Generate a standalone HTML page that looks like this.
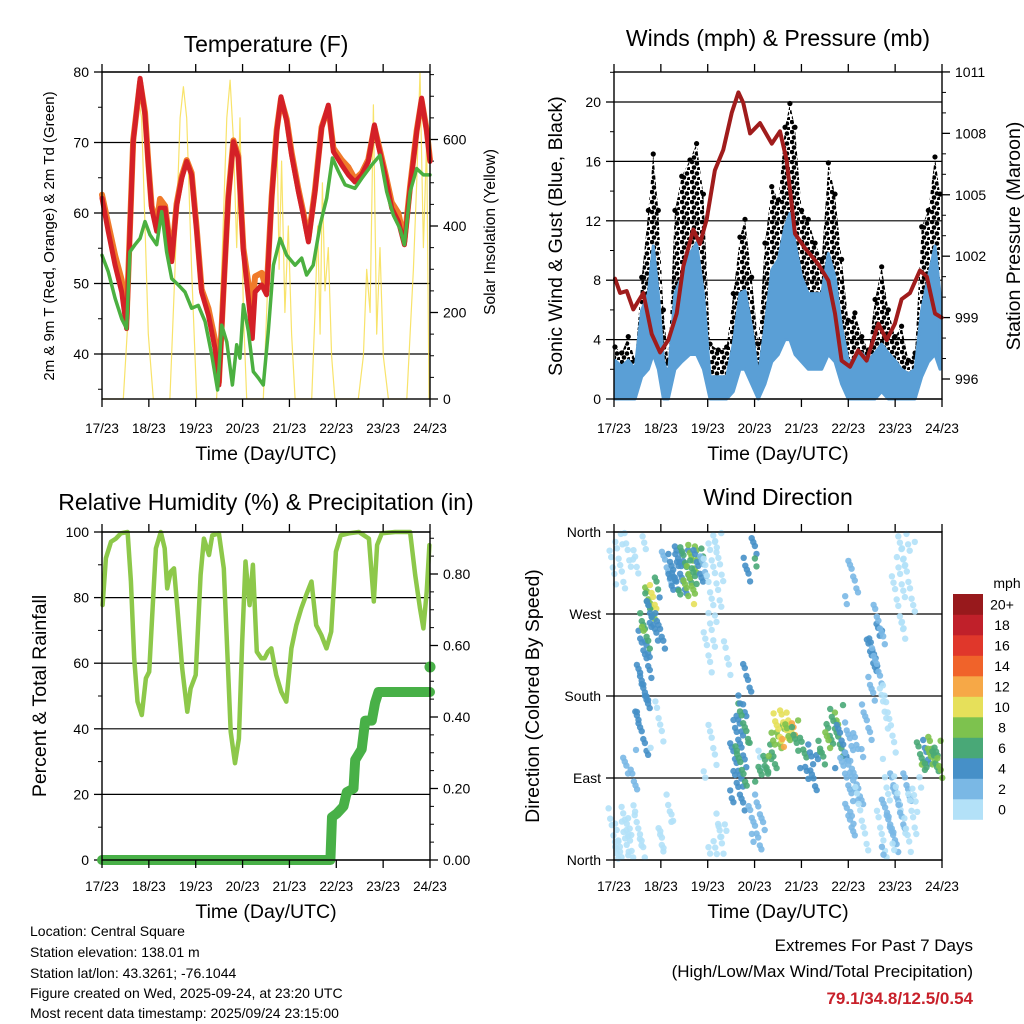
<!DOCTYPE html>
<html><head><meta charset="utf-8">
<style>
html,body{margin:0;padding:0;background:#fff;}
svg{display:block;font-family:"Liberation Sans",Arial,sans-serif;}
</style></head>
<body>
<svg id="root" width="1024" height="1024" viewBox="0 0 1024 1024" xmlns="http://www.w3.org/2000/svg">
<defs>
<pattern id="dots" width="10" height="10" patternUnits="userSpaceOnUse">
<circle cx="2" cy="2" r="2.3" fill="#000"/><circle cx="7" cy="3.5" r="2.3" fill="#000"/><circle cx="4" cy="7.5" r="2.3" fill="#000"/><circle cx="9" cy="9" r="2" fill="#000"/>
</pattern>
</defs>
<g id="g1"></g>
<g id="g2"></g>
<g id="g3"></g>
<g id="g4"></g>
<g id="footer">
<text x="30" y="936" font-size="14">Location: Central Square</text>
<text x="30" y="957" font-size="14">Station elevation: 138.01 m</text>
<text x="30" y="978" font-size="14">Station lat/lon: 43.3261; -76.1044</text>
<text x="30" y="998" font-size="14">Figure created on Wed, 2025-09-24, at 23:20 UTC</text>
<text x="30" y="1018" font-size="14">Most recent data timestamp: 2025/09/24 23:15:00</text>
<text x="973" y="951" font-size="17" text-anchor="end">Extremes For Past 7 Days</text>
<text x="973" y="977" font-size="17" text-anchor="end">(High/Low/Max Wind/Total Precipitation)</text>
<text x="973" y="1004" font-size="17" font-weight="bold" fill="#c8202a" text-anchor="end">79.1/34.8/12.5/0.54</text>
</g>
</svg>
<script>
// ---------- DATA ----------
const dayLabels = ["17/23","18/23","19/23","20/23","21/23","22/23","23/23","24/23"];
const tempT = [0,3.2,6.7,10.1,12.6,14.3,16,19.5,22,23.7,25.4,28,29.7,32.3,35.7,38.2,40.8,43.4,45.9,48.5,51,54.5,57.9,59.9,62.1,64.7,67.3,69.8,72.4,75,77,78.4,81.8,84.3,86.9,89.5,91.7,94.6,97.1,100.6,103.1,105.7,109.1,112.5,115.9,118.5,122.8,126.2,129.6,133,136.4,139.5,141.5,145,148.4,151.8,154.9,157.8,161.2,163.7,166.3,168];
const tempRed = [62.1,57.4,52.6,48.8,43.6,57.4,70.1,79.1,73.9,66.8,60.7,57.4,60.7,60.7,53.1,61,64.9,67.3,65.4,57.4,48.8,45.5,40.8,35.6,47.9,62.1,70.1,67.8,54.5,47.9,42.2,48.8,49.8,48.4,62.1,71.5,76.5,73,68.2,63,59.7,55.9,63,72,75.3,68.7,66.8,65.4,64.4,65.4,67.3,72.5,69.6,65.4,60.7,58.8,55.5,63.5,71.5,76.3,71.5,67.3];
const tempOrange = [62.6,58.5,54,50.5,45,57.6,70.4,78.6,74.3,67.2,61,58.5,62,61,53.5,61.3,65.2,67.5,65.7,57.8,49.2,46.5,42,36,48.2,62.4,70.3,68.1,55,50,47,51,51.5,49,62.4,71.8,76.2,73.3,68.6,63.4,60.1,56.3,63.3,72.2,75,69.2,67.5,66.5,64.8,65.7,67.6,72.2,69.9,65.8,61.5,60,56,63.8,71.7,76,71.8,67.6];
const dewT = [0,3.2,6.7,10.1,12.6,14.3,16.9,19.5,22,24.6,28,30.6,33.1,35.7,39.1,42.5,45.9,49.3,52.8,56.2,59.2,61.3,63.9,66.8,69,70.7,72.4,75,77.5,80.1,82.6,85.2,87.8,91.2,94.6,98.9,102.3,104.8,108.2,111.7,115.1,118,121.1,124.5,129.6,133,138.1,142.4,145.8,149.2,152.6,154.9,157.8,161.2,164.6,168];
const dewVal = [54,51.7,47.9,45,43.6,54.5,55.5,56.4,58.8,56.9,55.5,60.2,54.5,50.7,49.8,48.8,46.5,46.9,44.6,39.9,34.9,44.1,41.7,35.6,41.3,39.4,47,43.2,37.5,36.6,35.6,43.2,52.6,56.4,54,52.6,53.6,51.2,52.6,58.3,62.1,67.8,65.9,64,63.5,64.9,66.8,68.2,63,59.7,57.8,55.5,63,66.3,65.4,65.4];
const solarT = [0,10.9,13.5,16,18.6,20.3,22,23.7,26.3,34.8,37.4,40,41.7,43.4,45.9,48.5,58.7,61.3,63.9,65.6,67.3,69,70.7,72.4,74.1,82.6,85.2,87.8,89.5,90.7,92,93.7,95.4,97.1,98.9,107.4,109.1,110.5,111.7,112.9,114.2,115.9,117.6,119.3,131.3,133.9,135.6,137.3,139,140.7,142.4,144.1,146.7,156.1,157.8,159.5,161.2,162.9,164.6,166.3,167.5];
const solarVal = [0,0,200,500,700,650,400,150,0,0,300,650,722,650,300,0,0,300,650,737,600,350,650,200,0,0,300,600,656,300,550,200,400,150,0,0,200,400,150,500,250,350,100,0,0,100,300,200,680,150,350,100,0,0,150,300,500,756,350,600,0];

const presT = [0.5,3.1,6.5,9.9,15,19.3,23.6,27.8,32.1,35.5,40.6,44,47.5,51.7,56,60.3,63.7,66.2,69.7,74.8,80.8,85,88.4,92.7,97.8,104.7,109.8,113.2,116.6,120.9,125.1,129.4,135.4,139.7,143.9,147.3,151.6,156.7,160.2,164.4,167.8];
const presVal = [1000.9,1000.2,1000.3,999.4,1000.2,998.2,997.3,997.9,999.2,1001.5,1003.3,1002.6,1003.8,1006.2,1007.2,1009,1010,1009.5,1008,1008.5,1007.5,1008.1,1006.7,1003.1,1002.4,1001.6,1000.8,999.2,996.9,996.6,997.4,996.9,998.7,997.9,998.7,999.9,1000.2,1001.3,1001,999.2,999];
const windT = [0.5,3.9,7.3,10.8,14.2,17.6,20.1,22.7,25.3,27.8,31.2,34.7,38.9,42.3,45.8,49.2,53.4,57.7,61.1,64.5,67.1,70.5,73.9,77.3,80.8,84.2,87.6,90.1,92.7,96.1,99.5,103,106.4,109.8,113.2,116.6,120,123.4,126.9,130.3,133.7,137.1,140.5,143.9,147.3,150.8,154.2,157.6,161,164.4,167];
const windHi = [2.6,2.2,2.6,2.0,6.0,7.1,10.3,7.1,2.6,1.5,7.1,8.2,9.8,10.5,7.1,1.5,1.5,1.5,3.7,7.1,7.3,4.8,1.5,4.8,8.7,9.4,11.6,12.5,10.5,8.2,7.1,7.1,7.1,9.8,8.2,4.8,2.6,2.6,3.1,2.6,3.1,3.7,3.1,2.6,2.0,1.7,2.0,6.0,8.2,10.3,7.1];
const windLo = [0,0,0,0,1.5,2,3,2,0,0,2,2.5,3,3,2,0,0,0,0.5,2,2,1,0,1,2.5,3,4,4,3,2.5,2,2,2,3,2.5,1,0,0,0,0,0,0.5,0,0,0,0,0,1.5,2.5,3,2];
const gustHi = [3.5,3.1,4.2,2.6,8.2,12.7,16.5,12.7,6.0,2.6,12.7,15.0,16.1,17.2,13.8,3.7,3.3,3.5,7.1,10.9,12.1,8.2,3.7,10.5,14.3,13.4,18.3,19.9,18.3,12.7,12.1,10.5,9.4,15.9,13.8,9.4,5.3,5.8,4.2,3.3,6.7,8.9,6.0,4.2,4.9,2.6,3.1,11.6,12.7,16.3,13.8];

const rhT = [0.3,2,4.6,7.1,9.7,13.1,14.8,16.5,18.2,20.4,22.5,24.2,25.9,27.6,30.1,32.1,33.4,35.2,36.9,38.6,41.1,43.7,45.4,48,50.5,52.2,54.8,56.5,59.9,62.4,64.2,65.9,68.1,70.1,71.8,73.5,75.6,77.3,79.3,81.6,83.3,85,86.7,89.2,91.8,94.4,97,99.5,102.1,104.6,107.3,109.7,112.3,115,117.4,119.8,122.3,126.5,131.6,136.7,139.2,140.9,143.3,150.1,157.8,160.4,162.9,164.6,166.3,167.7];
const rhVal = [77.7,92,97,98,99.6,100,85,61.5,48.3,44.2,55.4,57.4,76.7,95,100,95,82.8,87.9,88.9,76.7,58.4,45.2,52.3,56.4,86.9,98,93,99,99.6,88.9,63.5,39.1,29.5,37,66.6,91,77.7,90,63.5,61.5,61.5,63.5,64.5,56.4,51.3,48.3,64.5,71.6,76.7,80.8,84.9,71.6,68.6,64.5,69.6,94,99,99.6,100,98,78.8,96,99.6,100,100,86.9,76.7,70.6,81.8,96];
const rainT = [0,117,117.8,120.3,123.7,125.4,128.8,129.7,133,134.8,138.2,139.9,141.6,168];
const rainVal = [0,0,0.12,0.13,0.15,0.19,0.20,0.28,0.31,0.39,0.39,0.44,0.47,0.47];
const rainFinal = [168, 0.54];

const dirT =  [0.5,2.2,3.9,5.6,7.3,9,10.8,12.5,1,4,7,10,13,8,11,14.2,15,15.9,16.7,17.6,18.4,19.3,20.1,23.6,22,26.1,27,27.8,29.5,31.2,33,34.7,36.4,38.9,40.6,42.3,44,45.8,41,49.2,51.7,54.3,49.2,51.7,54.3,56.9,58,62.8,64.5,65.5,66.2,67,69.7,69.7,72.2,73.9,74,75.6,77.3,79,80.8,82.5,84,85,86.7,88.4,89.5,91,93.6,96.1,98.7,101.2,103.8,106.4,108.9,111.5,114,116.6,119.2,121.7,124.3,126.9,121.7,130.3,132.8,134,135.4,137,138,140.5,141,143.1,145.6,148.2,150.8,146,149,152,154,158.4,160,161,162.5,164,165.5,166.5];
const dirLo = [2,2,2,2,2,2,2,2,300,295,320,310,330,90,75,110,150,200,230,250,270,265,240,230,120,2,10,300,295,295,300,290,285,290,285,300,300,310,276,200,230,300,80,2,2,2,200,60,55,80,120,170,305,320,10,20,100,85,90,95,100,110,120,125,130,130,120,130,115,105,95,85,70,100,115,120,110,100,60,20,40,2,280,130,200,210,190,140,2,2,110,10,250,280,240,10,30,5,20,95,100,100,100,105,95,90];
const dirHi = [55,40,60,45,50,38,60,30,357,350,357,340,357,120,100,200,240,262,270,300,300,310,290,270,175,70,50,340,335,345,335,340,345,345,345,340,340,335,280,357,357,350,150,50,40,35,240,160,170,130,170,215,355,330,60,70,120,105,110,115,125,140,150,160,165,160,150,155,145,135,125,115,100,130,150,160,170,150,150,140,120,80,330,200,260,250,280,190,90,80,190,95,357,357,350,90,95,80,90,130,130,135,125,130,120,110];
const dirSpd = [1,1,1,1,1,1,1,1,1,1,1,1,1,2,3,4,4,4,6,8,10,7,5,4,1,1,1,3,4,5,4,5,7,8,8,7,4,3,10,1,1,1,1,1,1,1,1,4,4,6,7,4,4,6,2,3,1,6,6,6,7,8,9,10,10,11,12,8,6,6,5,4,4,6,7,8,6,4,2,2,2,1,3,2,4,4,3,1,1,2,1,2,1,1,1,1,2,1,1,6,5,8,7,8,6,8];

const cbColors = ["#b3e1f8","#7ab8e5","#4690c8","#49a877","#7dc24e","#e6e05a","#f6a847","#f0632a","#e0372b","#c0202a","#98191c"];
const cbLabels = ["0","2","4","6","8","10","12","14","16","18","20+"];

// ---------- HELPERS ----------
const NS="http://www.w3.org/2000/svg";
function mk(parent, tag, attrs, txt){
  const e=document.createElementNS(NS,tag);
  for(const k in attrs) e.setAttribute(k,attrs[k]);
  if(txt!==undefined) e.textContent=txt;
  parent.appendChild(e); return e;
}
const P1={L:102,R:430,T:72,B:399}, P2={L:614,R:942,T:72,B:399}, P3={L:102,R:430,T:532,B:860}, P4={L:614,R:942,T:532,B:860};
const xs=(p,t)=>p.L+t/168*(p.R-p.L);
const yT=v=>72+(80-v)*7.05, yS=v=>399-v*0.4325;
const yW=v=>399-v*14.85, yP=v=>379-(v-996)*20.47;
const yR=v=>860-v*3.28, yPr=v=>860-v*357.5;
const yD=d=>860-d/360*328;

function line(g,pts,stroke,w,name,extra){
  const el=mk(g,'polyline',Object.assign({points:pts.map(p=>p[0].toFixed(1)+','+p[1].toFixed(1)).join(' '),fill:'none',stroke:stroke,'stroke-width':w,'stroke-linejoin':'round','stroke-linecap':'round'},extra||{}));
  
  
  return el;
}
function timeAxis(g,p,labelY,titleY){
  for(let i=0;i<dayLabels.length;i++){
    const x=p.L+i*(p.R-p.L)/7;
    mk(g,'line',{x1:x,y1:p.B,x2:x,y2:p.B+8,stroke:'#000','stroke-width':1.3});
    mk(g,'line',{x1:x,y1:p.T,x2:x,y2:p.T-8,stroke:'#000','stroke-width':1.3});
    const t=mk(g,'text',{x:x,y:labelY,'font-size':13.5,'text-anchor':'middle'},dayLabels[i]);
    
    
  }
  const tt=mk(g,'text',{x:(p.L+p.R)/2,y:titleY,'font-size':19.5,'text-anchor':'middle'},'Time (Day/UTC)');
  
  
}
function frame(g,p){
  const r=mk(g,'rect',{x:p.L,y:p.T,width:p.R-p.L,height:p.B-p.T,fill:'none',stroke:'#000','stroke-width':1.4});
  
  
}
function yTicks(g,p,vals,fy,labels,side,grid,minor){
  const x=side==='L'?p.L:p.R, d=side==='L'?-1:1;
  vals.forEach((v,i)=>{
    const y=fy(v);
    if(grid) mk(g,'line',{x1:p.L,y1:y,x2:p.R,y2:y,stroke:'#000','stroke-width':1.2});
    mk(g,'line',{x1:x,y1:y,x2:x+d*8,y2:y,stroke:'#000','stroke-width':1.3});
    const t=mk(g,'text',{x:x+d*13,y:y+5,'font-size':14,'text-anchor':side==='L'?'end':'start'},labels[i]);
    
    
  });
  (minor||[]).forEach(v=>{const y=fy(v);mk(g,'line',{x1:x,y1:y,x2:x+d*4,y2:y,stroke:'#000','stroke-width':1});});
}
function vtitle(g,x,y,txt,size,name){
  const t=mk(g,'text',{x:x,y:y,'font-size':size,'text-anchor':'middle',transform:`rotate(-90 ${x} ${y})`},txt);
  
  
}
function title(g,x,y,txt,name){
  const t=mk(g,'text',{x:x,y:y,'font-size':23,'text-anchor':'middle'},txt);
  
  
}

// ---------- PANEL 1 ----------
(function(){
  const g=document.getElementById('g1');
  title(g,266,52,'Temperature (F)','temperature-title');
  yTicks(g,P1,[40,50,60,70,80],yT,['40','50','60','70','80'],'L',true,[35,45,55,65,75]);
  yTicks(g,P1,[0,200,400,600],yS,['0','200','400','600'],'R',false,[50,100,150,250,300,350,450,500,550,650,700,750]);
  line(g,solarT.map((t,i)=>[xs(P1,t),yS(solarVal[i])]),'#f7de50',1.2,'solar-insolation-line',{opacity:0.85});
  line(g,tempT.map((t,i)=>[xs(P1,t),yT(tempOrange[i])]),'#f07a2a',6,'temp-9m-orange-line');
  line(g,tempT.map((t,i)=>[xs(P1,t),yT(tempRed[i])]),'#d42027',5,'temp-2m-red-line');
  line(g,dewT.map((t,i)=>[xs(P1,t),yT(dewVal[i])]),'#4bb040',3.5,'dewpoint-green-line');
  frame(g,P1);
  timeAxis(g,P1,433,460);
  vtitle(g,54,236,'2m & 9m T (Red, Orange) & 2m Td (Green)',15,'left-y-axis-title');
  vtitle(g,495,232,'Solar Insolation (Yellow)',15.5,'right-y-axis-title');
})();

// ---------- PANEL 2 ----------
(function(){
  const g=document.getElementById('g2');
  title(g,778,46,'Winds (mph) & Pressure (mb)','wind-title');
  yTicks(g,P2,[0,4,8,12,16,20],yW,['0','4','8','12','16','20'],'L',true,[2,6,10,14,18,22]);
  yTicks(g,P2,[996,999,1002,1005,1008,1011],yP,['996','999','1002','1005','1008','1011'],'R',false,[997,998,1000,1001,1003,1004,1006,1007,1009,1010]);
  const gp=windT.map((t,i)=>[xs(P2,t),yW(gustHi[i])]).concat(windT.map((t,i)=>[xs(P2,t),yW(windLo[i])]).reverse());
  const gust=mk(g,'polygon',{points:gp.map(p=>p.join(',')).join(' '),fill:'url(#dots)'});
  
  
  windT.forEach((t,i)=>{
    const c=mk(g,'circle',{cx:xs(P2,t),cy:yW(gustHi[i]),r:2.6,fill:'#000'});
    
    
  });
  const bp=windT.map((t,i)=>[xs(P2,t),yW(windHi[i])]).concat(windT.map((t,i)=>[xs(P2,t),yW(windLo[i])]).reverse());
  const blue=mk(g,'polygon',{points:bp.map(p=>p.join(',')).join(' '),fill:'#5a9fd6',stroke:'#5a9fd6','stroke-width':3,'stroke-linejoin':'round'});
  
  
  line(g,presT.map((t,i)=>[xs(P2,t),yP(presVal[i])]),'#a01c1c',4,'pressure-maroon-line');
  frame(g,P2);
  timeAxis(g,P2,433,460);
  vtitle(g,562,236,'Sonic Wind & Gust (Blue, Black)',19.5,'left-y-axis-title');
  vtitle(g,1020,236,'Station Pressure (Maroon)',19.5,'right-y-axis-title');
})();

// ---------- PANEL 3 ----------
(function(){
  const g=document.getElementById('g3');
  title(g,266,510,'Relative Humidity (%) & Precipitation (in)','humidity-title');
  yTicks(g,P3,[0,20,40,60,80,100],yR,['0','20','40','60','80','100'],'L',true,[10,30,50,70,90]);
  yTicks(g,P3,[0,0.2,0.4,0.6,0.8],yPr,['0.00','0.20','0.40','0.60','0.80'],'R',false,[0.05,0.1,0.15,0.25,0.3,0.35,0.45,0.5,0.55,0.65,0.7,0.75,0.85,0.9]);
  line(g,rhT.map((t,i)=>[xs(P3,t),yR(rhVal[i])]),'#8dc84a',4.5,'relative-humidity-line');
  line(g,rainT.map((t,i)=>[xs(P3,t),yPr(rainVal[i])]),'#48b047',10,'precipitation-line');
  const fd=mk(g,'circle',{cx:xs(P3,rainFinal[0]),cy:yPr(rainFinal[1]),r:5.5,fill:'#48b047'});
  
  
  frame(g,P3);
  timeAxis(g,P3,891,918);
  vtitle(g,46,696,'Percent & Total Rainfall',19.5,'left-y-axis-title');
})();

// ---------- PANEL 4 ----------
(function(){
  const g=document.getElementById('g4');
  title(g,778,505,'Wind Direction','wind-direction-title');
  yTicks(g,P4,[0,90,180,270,360],yD,['North','East','South','West','North'],'L',true,[]);
  dirT.forEach((t,i)=>{
    const ci=Math.min(10,Math.floor(dirSpd[i]/2));
    const y1=yD(dirHi[i]), y2=yD(dirLo[i]);
    const step=ci===0?8:5.5;
    let k=0;
    for(let y=y1;y<=y2+0.1;y+=step){
      const jx=((k*37+i*11)%9-4)*1.6;
      const jy=((k*23+i*7)%5-2)*0.8;
      const c=mk(g,'circle',{cx:(xs(P4,t)+jx).toFixed(1),cy:(y+jy).toFixed(1),r:3.2,fill:cbColors[ci],'fill-opacity':0.9});
      
      
      k++;
    }
  });
  frame(g,P4);
  timeAxis(g,P4,891,918);
  vtitle(g,539,696,'Direction (Colored By Speed)',19.5,'left-y-axis-title');
  const cb=mk(g,'g',{});
  
  
  const h=20.5, top=594;
  cbColors.forEach((c,i)=>{
    const y=top+(10-i)*h;
    const r=mk(cb,'rect',{x:953,y:y,width:30,height:h+0.3,fill:c});
    
    
    const t=mk(cb,'text',{x:1002,y:y+h/2+5,'font-size':14,'text-anchor':'middle'},cbLabels[i]);
    
    
  });
  const u=mk(cb,'text',{x:1007,y:588,'font-size':14,'text-anchor':'middle'},'mph');
  
  
})();
</script>
</body></html>
